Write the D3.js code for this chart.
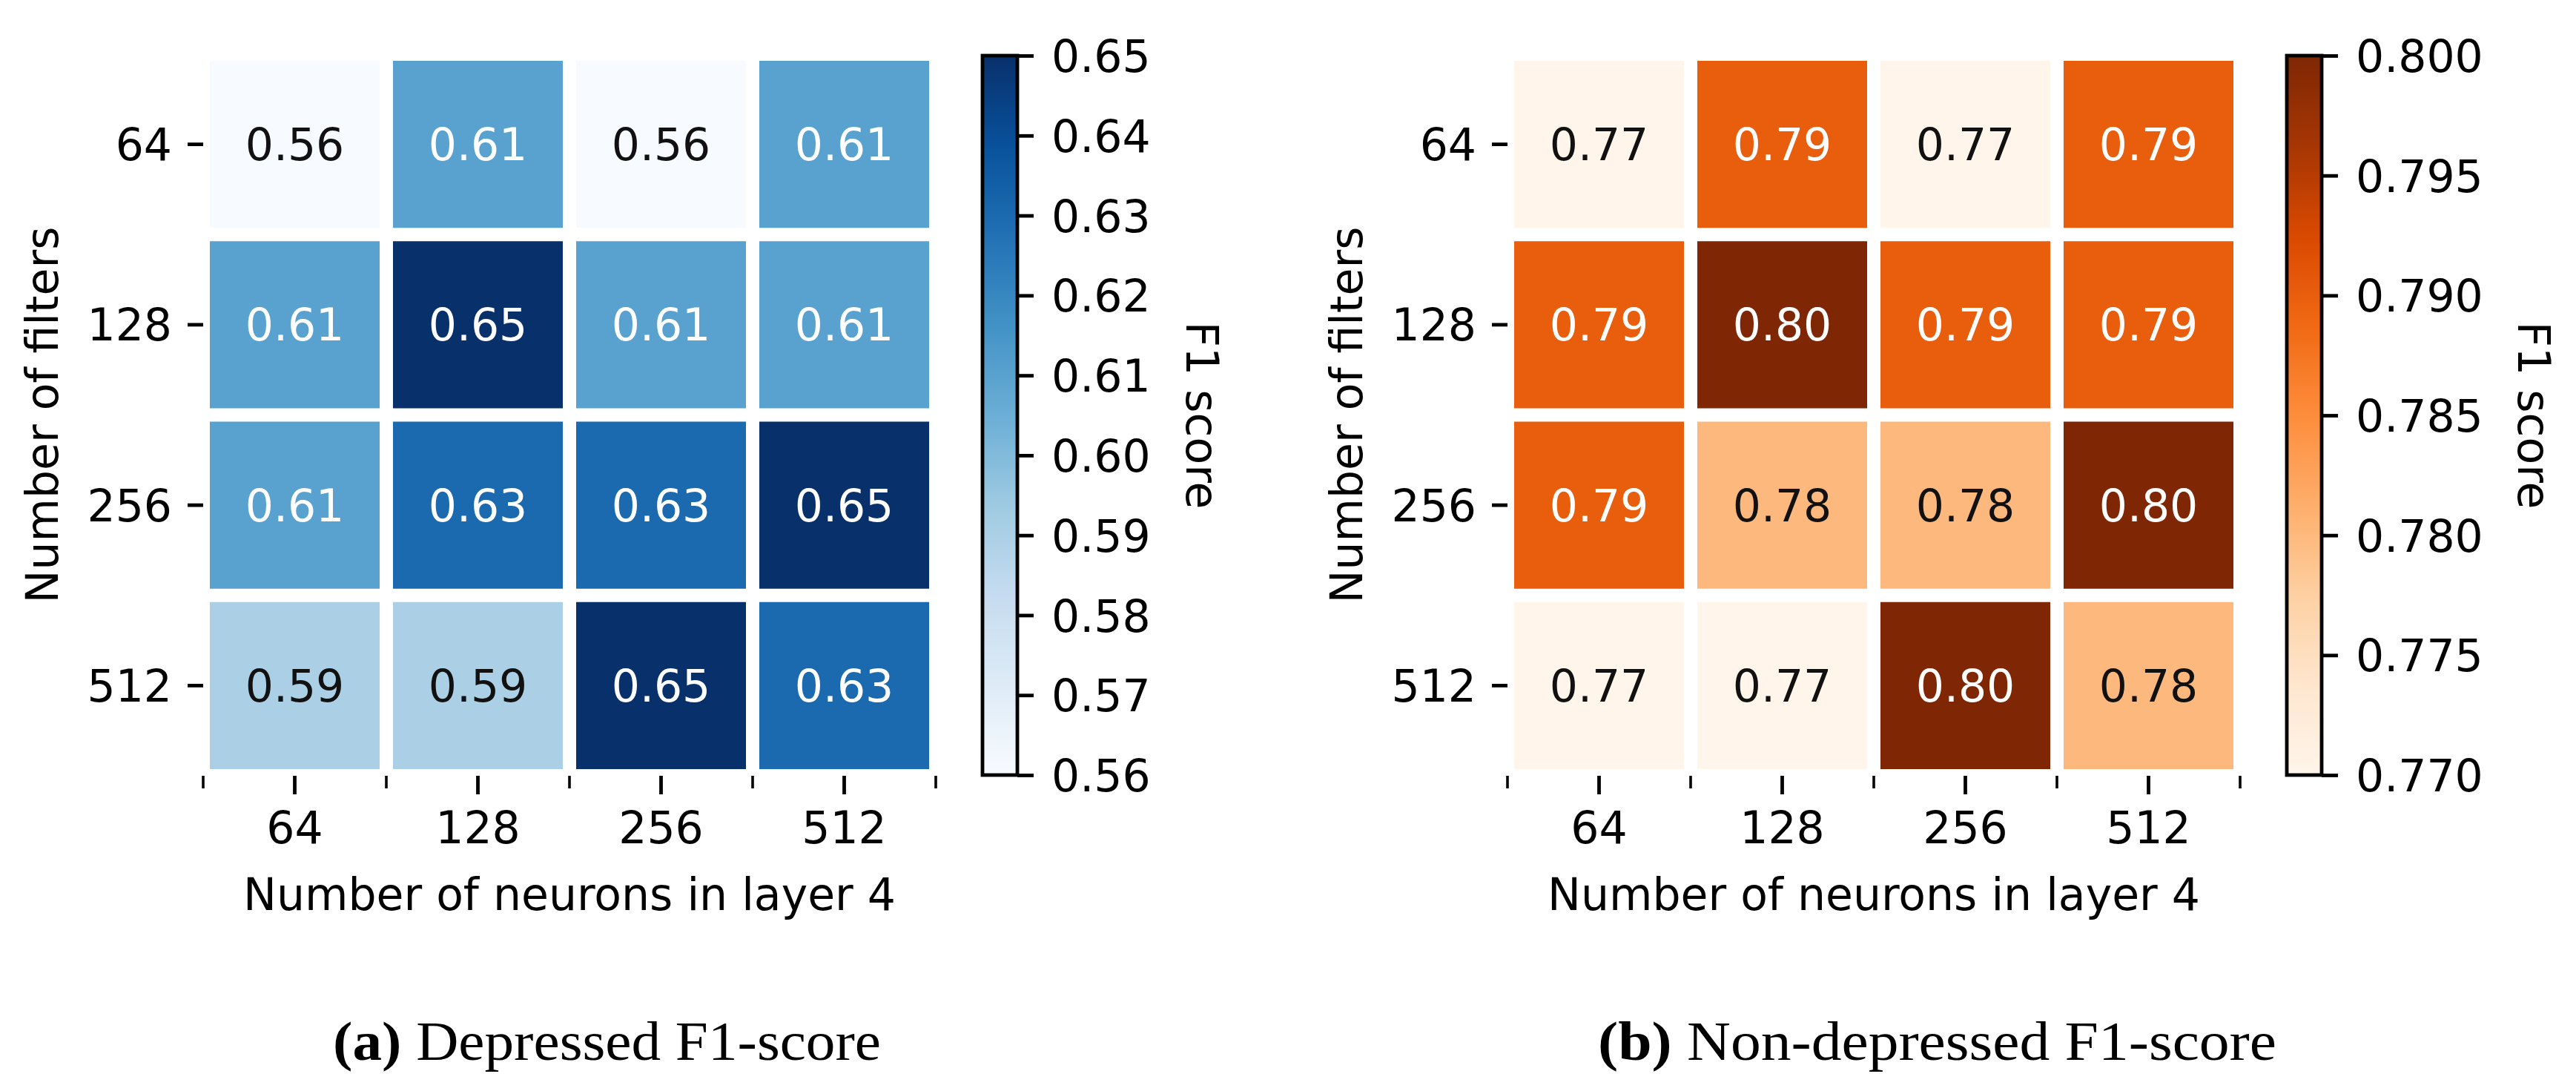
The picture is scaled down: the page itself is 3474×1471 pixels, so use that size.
<!DOCTYPE html>
<html>
<head>
<meta charset="utf-8">
<script src="https://cdn.jsdelivr.net/npm/d3@7"></script>
<style>
body { margin: 0; background: #fff; }
</style>
</head>
<body>
<div class="figure"></div>
<script>
// categories (columns = neurons in layer 4, rows = number of filters)
var neurons = ['64', '128', '256', '512'];
var filters = ['64', '128', '256', '512'];

// F1 scores, one row per filter count
var depressed = [
  [0.56, 0.61, 0.56, 0.61],
  [0.61, 0.65, 0.61, 0.61],
  [0.61, 0.63, 0.63, 0.65],
  [0.59, 0.59, 0.65, 0.63]
];
var nonDepressed = [
  [0.77, 0.79, 0.77, 0.79],
  [0.79, 0.80, 0.79, 0.79],
  [0.79, 0.78, 0.78, 0.80],
  [0.77, 0.77, 0.80, 0.78]
];

// colorbar ticks
var depressedTicks = [0.56, 0.57, 0.58, 0.59, 0.60, 0.61, 0.62, 0.63, 0.64, 0.65];
var nonDepressedTicks = [0.770, 0.775, 0.780, 0.785, 0.790, 0.795, 0.800];

// colorbrewer stops (matplotlib Blues / Oranges)
var blues = ['#f7fbff', '#deebf7', '#c6dbef', '#9ecae1', '#6baed6', '#4292c6', '#2171b5', '#08519c', '#08306b'];
var oranges = ['#fff5eb', '#fee6ce', '#fdd0a2', '#fdae6b', '#fd8d3c', '#f16913', '#d94801', '#a63603', '#7f2704'];

var SANS = '"DejaVu Sans", sans-serif';
var SERIF = '"Liberation Serif", "DejaVu Serif", serif';
var FS = 60;

var svg = d3.select('.figure')
  .append('svg')
  .attr('width', 3474)
  .attr('height', 1471);
svg.append('rect').attr('width', 3474).attr('height', 1471).attr('fill', '#fff');
var defs = svg.append('defs');

// seaborn picks annotation colour from relative luminance
function luminance(c) {
  var rgb = d3.rgb(c);
  var ch = [rgb.r, rgb.g, rgb.b].map(function(v) {
    v = v / 255;
    return v <= 0.03928 ? v / 12.92 : Math.pow((v + 0.055) / 1.055, 2.4);
  });
  return 0.2126 * ch[0] + 0.7152 * ch[1] + 0.0722 * ch[2];
}

function styleAxis(a) {
  a.select('.domain').remove();
  a.selectAll('line').attr('stroke', '#000').attr('stroke-width', 4.8);
  a.selectAll('text').attr('fill', '#000').style('font-family', SANS).style('font-size', FS + 'px');
}

function drawPanel(dx, values, ticks, fmt, stops, id, cbLabelX) {
  var g = svg.append('g').attr('transform', 'translate(' + dx + ',0)');
  var x = d3.scaleBand().domain(neurons).range([274, 1262]);
  var y = d3.scaleBand().domain(filters).range([73, 1046]);
  var lo = ticks[0], hi = ticks[ticks.length - 1];
  var color = d3.scaleLinear()
    .domain(stops.map(function(d, i) { return lo + (hi - lo) * i / (stops.length - 1); }))
    .range(stops)
    .interpolate(d3.interpolateRgb)
    .clamp(true);

  var cells = [];
  values.forEach(function(row, i) {
    row.forEach(function(v, j) { cells.push({ f: filters[i], n: neurons[j], v: v }); });
  });

  var gap = 18;
  g.selectAll('.cell').data(cells).enter().append('rect')
    .attr('class', 'cell')
    .attr('x', function(d) { return x(d.n) + gap / 2; })
    .attr('y', function(d) { return y(d.f) + gap / 2; })
    .attr('width', x.bandwidth() - gap)
    .attr('height', y.bandwidth() - gap)
    .attr('fill', function(d) { return color(d.v); });

  g.selectAll('.annot').data(cells).enter().append('text')
    .attr('class', 'annot')
    .attr('x', function(d) { return x(d.n) + x.bandwidth() / 2; })
    .attr('y', function(d) { return y(d.f) + y.bandwidth() / 2; })
    .attr('dy', '0.36em')
    .attr('text-anchor', 'middle')
    .style('font-family', SANS)
    .style('font-size', FS + 'px')
    .attr('fill', function(d) { return luminance(color(d.v)) > 0.408 ? '#111111' : '#ffffff'; })
    .text(function(d) { return d.v.toFixed(2); });

  // y axis
  var ya = g.append('g').attr('transform', 'translate(274,0)')
    .call(d3.axisLeft(y).tickSize(21).tickPadding(21));
  styleAxis(ya);
  ya.selectAll('text').attr('dy', '0.36em');

  // x axis, with small ticks at the cell borders
  var xa = g.append('g').attr('transform', 'translate(0,1046)')
    .call(d3.axisBottom(x).tickSize(25).tickPadding(23));
  styleAxis(xa);
  var edges = neurons.map(function(n) { return x(n); }).concat([x.range()[1]]);
  g.selectAll('.minor').data(edges).enter().append('line')
    .attr('class', 'minor')
    .attr('x1', function(d) { return d; })
    .attr('x2', function(d) { return d; })
    .attr('y1', 1046)
    .attr('y2', 1063)
    .attr('stroke', '#000')
    .attr('stroke-width', 3.6);

  g.append('text')
    .attr('x', (x.range()[0] + x.range()[1]) / 2)
    .attr('y', 1227)
    .attr('text-anchor', 'middle')
    .style('font-family', SANS)
    .style('font-size', FS + 'px')
    .text('Number of neurons in layer 4');

  g.append('text')
    .attr('transform', 'translate(78,' + (y.range()[0] + y.range()[1]) / 2 + ') rotate(-90)')
    .attr('text-anchor', 'middle')
    .style('font-family', SANS)
    .style('font-size', FS + 'px')
    .text('Number of filters');

  // colorbar
  var cbx = 1325, cbw = 47;
  var cby = d3.scaleLinear().domain([lo, hi]).range([1045, 75]);
  var grad = defs.append('linearGradient')
    .attr('id', id)
    .attr('x1', 0).attr('y1', 1).attr('x2', 0).attr('y2', 0);
  grad.selectAll('stop').data(d3.range(0, 1.0001, 0.02)).enter().append('stop')
    .attr('offset', function(t) { return t; })
    .attr('stop-color', function(t) { return color(lo + (hi - lo) * t); });
  g.append('rect')
    .attr('x', cbx).attr('y', cby(hi))
    .attr('width', cbw).attr('height', cby(lo) - cby(hi))
    .attr('fill', 'url(#' + id + ')');
  var ca = g.append('g').attr('transform', 'translate(' + (cbx + cbw) + ',0)')
    .call(d3.axisRight(cby).tickValues(ticks).tickFormat(fmt).tickSize(22).tickPadding(24));
  styleAxis(ca);
  ca.selectAll('text').attr('dy', '0.36em');
  g.append('rect')
    .attr('x', cbx).attr('y', cby(hi))
    .attr('width', cbw).attr('height', cby(lo) - cby(hi))
    .attr('fill', 'none')
    .attr('stroke', '#000')
    .attr('stroke-width', 4.8);

  g.append('text')
    .attr('transform', 'translate(' + cbLabelX + ',' + (cby.range()[0] + cby.range()[1]) / 2 + ') rotate(90)')
    .attr('text-anchor', 'middle')
    .style('font-family', SANS)
    .style('font-size', FS + 'px')
    .text('F1 score');
}

function caption(x, len, bold, rest) {
  var t = svg.append('text')
    .attr('x', x)
    .attr('y', 1429)
    .attr('textLength', len)
    .attr('lengthAdjust', 'spacingAndGlyphs')
    .style('font-family', SERIF)
    .style('font-size', '74px')
    .attr('fill', '#000');
  t.append('tspan').style('font-weight', 'bold').text(bold);
  t.append('tspan').text(' ' + rest);
}

drawPanel(0, depressed, depressedTicks, d3.format('.2f'), blues, 'gradBlues', 1600);
drawPanel(1759, nonDepressed, nonDepressedTicks, d3.format('.3f'), oranges, 'gradOranges', 1637);

caption(449, 739, '(a)', 'Depressed F1-score');
caption(2155, 915, '(b)', 'Non-depressed F1-score');
</script>
</body>
</html>
